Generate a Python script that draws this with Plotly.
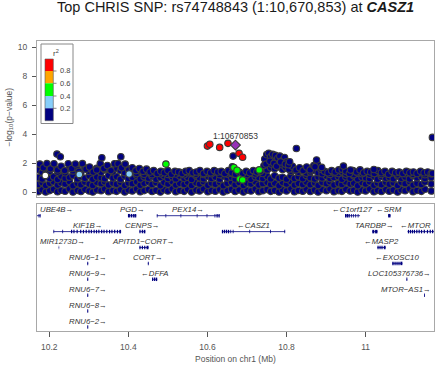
import plotly.graph_objects as go

# ------------------------------------------------------------------ data
title_text = "Top CHRIS SNP: rs74748843 (1:10,670,853) at <b><i>CASZ1</i></b>"
top_snp_label = "1:10670853"
x_range = [10.169, 11.173]
x_ticks = [10.2, 10.4, 10.6, 10.8, 11.0]
x_tick_labels = ["10.2", "10.4", "10.6", "10.8", "11"]
y_ticks = [0, 2, 4, 6, 8, 10]
y_range = [-0.32, 10.46]

# low-r2 (navy) SNP band
bg_pos = [
    10.172, 10.182, 10.191, 10.201, 10.211, 10.221, 10.230, 10.240, 10.251, 10.260,
    10.271, 10.280, 10.290, 10.301, 10.310, 10.320, 10.331, 10.340, 10.350, 10.361,
    10.370, 10.380, 10.391, 10.400, 10.410, 10.421, 10.430, 10.440, 10.451, 10.460,
    10.470, 10.481, 10.490, 10.500, 10.511, 10.520, 10.530, 10.541, 10.550, 10.560,
    10.571, 10.580, 10.590, 10.601, 10.610, 10.620, 10.631, 10.640, 10.650, 10.661,
    10.670, 10.680, 10.691, 10.700, 10.710, 10.721, 10.730, 10.740, 10.751, 10.760,
    10.770, 10.781, 10.790, 10.800, 10.811, 10.820, 10.830, 10.841, 10.850, 10.860,
    10.871, 10.880, 10.890, 10.901, 10.910, 10.920, 10.931, 10.940, 10.950, 10.961,
    10.970, 10.980, 10.991, 11.000, 11.010, 11.021, 11.030, 11.040, 11.051, 11.060,
    11.070, 11.081, 11.090, 11.100, 11.111, 11.120, 11.130, 11.141, 11.150, 11.166]
bg_logp_low = [
    0.05, 0.18, 0.02, 0.12, 0.22, 0.04, 0.15, 0.08, 0.25, 0.03,
    0.14, 0.06, 0.21, 0.09, 0.02, 0.17, 0.11, 0.24, 0.05, 0.13,
    0.07, 0.19, 0.03, 0.16, 0.10, 0.23, 0.04, 0.12, 0.20, 0.06,
    0.15, 0.02, 0.18, 0.09, 0.25, 0.05, 0.13, 0.07, 0.21, 0.03,
    0.16, 0.10, 0.24, 0.04, 0.14, 0.08, 0.19, 0.02, 0.12, 0.22,
    0.06, 0.17, 0.03, 0.15, 0.09, 0.23, 0.05, 0.11, 0.20, 0.07,
    0.14, 0.02, 0.18, 0.10, 0.25, 0.04, 0.13, 0.08, 0.21, 0.06,
    0.16, 0.03, 0.19, 0.11, 0.24, 0.05, 0.12, 0.07, 0.22, 0.09,
    0.15, 0.02, 0.17, 0.10, 0.23, 0.04, 0.14, 0.06, 0.20, 0.08,
    0.16, 0.03, 0.18, 0.11, 0.25, 0.05, 0.13, 0.07, 0.21, 0.09]
bg_logp_mid = [
    0.55, 0.68, 0.47, 0.62, 0.73, 0.50, 0.66, 0.58, 0.75, 0.46,
    0.63, 0.52, 0.71, 0.57, 0.48, 0.69, 0.60, 0.74, 0.51, 0.64,
    0.56, 0.70, 0.47, 0.65, 0.59, 0.73, 0.49, 0.62, 0.72, 0.54,
    0.67, 0.46, 0.70, 0.58, 0.75, 0.50, 0.63, 0.55, 0.71, 0.48,
    0.66, 0.57, 0.74, 0.49, 0.64, 0.56, 0.69, 0.46, 0.62, 0.72,
    0.53, 0.68, 0.47, 0.65, 0.58, 0.73, 0.51, 0.60, 0.70, 0.55,
    0.64, 0.46, 0.69, 0.57, 0.75, 0.50, 0.63, 0.54, 0.71, 0.52,
    0.66, 0.47, 0.70, 0.59, 0.74, 0.51, 0.62, 0.55, 0.72, 0.58,
    0.65, 0.46, 0.68, 0.57, 0.73, 0.49, 0.64, 0.53, 0.70, 0.56,
    0.66, 0.48, 0.69, 0.60, 0.75, 0.50, 0.63, 0.54, 0.71, 0.58]
bg_logp_high = [
    1.02, 0.92, 1.15, 0.95, 1.08, 0.89, 1.12, 0.98, 1.05, 1.17,
    0.93, 1.10, 0.97, 1.14, 0.90, 1.06, 1.01, 0.94, 1.16, 0.99,
    1.09, 0.91, 1.13, 0.96, 1.04, 1.18, 0.92, 1.07, 0.98, 1.11,
    0.90, 1.03, 1.15, 0.95, 1.08, 0.93, 1.12, 0.97, 1.05, 0.89,
    1.14, 1.00, 0.94, 1.10, 0.96, 1.06, 0.91, 1.13, 0.99, 1.04,
    0.92, 1.16, 0.97, 1.09, 0.90, 1.07, 1.02, 0.95, 1.11, 0.93,
    1.15, 0.98, 1.04, 0.91, 1.12, 0.96, 1.08, 0.94, 1.17, 1.00,
    0.92, 1.06, 0.99, 1.13, 0.95, 1.03, 1.10, 0.90, 1.07, 0.97,
    1.14, 0.93, 1.05, 1.01, 0.96, 1.11, 0.91, 1.08, 0.98, 1.04,
    0.94, 1.12, 0.97, 1.06, 0.92, 1.15, 1.00, 1.09, 0.95, 1.03]
bg_logp_upper = [
    1.55, 1.38, 1.62, 1.45, 1.68, 1.40, 1.58, 1.35, 1.65, 1.48,
    1.60, 1.37, 1.70, 1.44, 1.52, 1.66, 1.39, 1.57, 1.63, 1.42,
    1.67, 1.50, 1.36, 1.61, 1.43, 1.30, 1.48, 1.25, 1.38, 1.22,
    1.35, 1.28, 1.40, 1.24, 1.33, 1.27, 1.38, 1.21, 1.36, 1.30,
    1.25, 1.39, 1.23, 1.34, 1.28, 1.40, 1.22, 1.36, 1.26, 1.31,
    1.24, 1.37, 1.29, 1.22, 1.35, 1.27, 1.40, 1.30, 1.55, 1.70,
    1.62, 1.75, 1.58, 1.66, 1.45, 1.52, 1.38, 1.47, 1.33, 1.41,
    1.50, 1.36, 1.28, 1.40, 1.24, 1.35, 1.30, 1.42, 1.26, 1.38,
    1.22, 1.33, 1.29, 1.37, 1.25, 1.31, 1.39, 1.23, 1.34, 1.27,
    1.36, 1.21, 1.32, 1.28, 1.38, 1.24, 1.30, 1.35, 1.22, 1.29]
env_pos = [
    10.176, 10.185, 10.194, 10.203, 10.212, 10.221, 10.230, 10.239, 10.248, 10.257,
    10.266, 10.275, 10.284, 10.293, 10.302, 10.311, 10.320, 10.329, 10.338, 10.347,
    10.356, 10.365, 10.374, 10.383, 10.392, 10.401, 10.410, 10.419, 10.428, 10.437,
    10.446, 10.455, 10.464, 10.473, 10.482, 10.491, 10.500, 10.509, 10.518, 10.527,
    10.536, 10.545, 10.554, 10.563, 10.572, 10.581, 10.590, 10.599, 10.608, 10.617,
    10.626, 10.635, 10.644, 10.653, 10.662, 10.671, 10.680, 10.689, 10.698, 10.707,
    10.716, 10.725, 10.734, 10.743, 10.752, 10.761, 10.770, 10.779, 10.788, 10.797,
    10.806, 10.815, 10.824, 10.833, 10.842, 10.851, 10.860, 10.869, 10.878, 10.887,
    10.896, 10.905, 10.914, 10.923, 10.932, 10.941, 10.950, 10.959, 10.968, 10.977,
    10.986, 10.995, 11.004, 11.013, 11.022, 11.031, 11.040, 11.049, 11.058, 11.067,
    11.076, 11.085, 11.094, 11.103, 11.112, 11.121, 11.130, 11.139, 11.148, 11.157,
    11.166]
env_logp = [
    1.95, 1.70, 1.98, 1.62, 1.97, 1.55, 1.80, 1.50, 1.97, 1.65,
    1.96, 1.45, 1.98, 1.60, 1.75, 1.40, 1.55, 1.98, 1.65, 1.85,
    1.50, 1.97, 1.98, 1.70, 1.95, 1.55, 1.70, 1.50, 1.65, 1.45,
    1.60, 1.40, 1.50, 1.30, 1.45, 1.35, 1.50, 1.25, 1.45, 1.40,
    1.30, 1.45, 1.50, 1.35, 1.40, 1.50, 1.30, 1.45, 1.35, 1.50,
    1.40, 1.45, 1.30, 1.50, 1.35, 1.25, 1.40, 1.30, 1.45, 1.35,
    1.50, 1.40, 1.45, 1.85, 2.10, 1.95, 2.20, 2.05, 1.90, 1.75,
    1.60, 1.80, 1.55, 1.70, 1.50, 1.75, 1.55, 1.85, 1.95, 1.60,
    1.45, 1.35, 1.50, 1.40, 1.55, 1.60, 1.45, 1.30, 1.50, 1.40,
    1.55, 1.35, 1.45, 1.40, 1.30, 1.50, 1.35, 1.45, 1.25, 1.45,
    1.35, 1.40, 1.30, 1.45, 1.35, 1.40, 1.30, 1.45, 1.35, 1.40,
    1.30]
peak_pos = [10.745, 10.750, 10.755, 10.760, 10.765, 10.772, 10.778, 10.783, 10.790,
            10.795, 10.800, 10.748, 10.758, 10.768, 10.775, 10.785, 10.797, 10.805,
            10.2195, 10.228, 10.333, 10.381, 10.665, 10.663, 10.825, 10.808, 10.876,
            10.872, 10.889, 10.944, 10.962, 11.021, 11.169, 11.169]
peak_logp = [2.30, 2.60, 2.69, 2.45, 2.62, 2.55, 2.35, 2.50, 2.20,
             2.40, 2.10, 1.95, 2.15, 2.00, 1.80, 2.10, 1.95, 1.90,
             2.64, 2.46, 2.39, 2.46, 2.50, 1.77, 3.03, 2.11, 2.23,
             1.77, 1.72, 1.81, 1.54, 1.58, 3.79, 1.31]
na_pos = [10.190]
na_logp = [1.17]
lb_pos = [10.276, 10.402]
lb_logp = [1.24, 1.27]
green_pos = [10.495, 10.667, 10.675, 10.731, 10.682, 10.689]
green_logp = [1.95, 1.71, 1.52, 1.55, 0.92, 0.86]
red_pos = [10.600, 10.606, 10.631, 10.652, 10.680, 10.689]
red_logp = [3.19, 3.32, 3.10, 3.38, 2.69, 2.42]
top_pos = [10.670853]
top_logp = [3.26]

legend_labels = ["0.8", "0.6", "0.4", "0.2"]
legend_colors = ["#FF0000", "#FFA500", "#00FF00", "#87CEFA", "#000080"]

# genes
gene_names = ["UBE4B", "PGD", "PEX14", "C1orf127", "SRM",
              "KIF1B", "CENPS", "CASZ1", "TARDBP", "MTOR",
              "MIR1273D", "APITD1-CORT", "MASP2",
              "RNU6-1", "CORT", "EXOSC10",
              "RNU6-9", "DFFA", "LOC105376736",
              "RNU6-7", "MTOR-AS1", "RNU6-8", "RNU6-2"]
gene_start = [10.033, 10.399, 10.472, 10.948, 11.057,
              10.2106, 10.428, 10.6366, 11.017, 11.106,
              10.2240, 10.428, 11.0296,
              10.2962, 10.4493, 11.0675,
              10.2962, 10.4600, 11.1033,
              10.2962, 11.1480, 10.2962, 10.2962]
gene_end = [10.178, 10.420, 10.631, 10.986, 11.063,
            10.3816, 10.443, 10.7966, 11.030, 11.2626,
            10.2250, 10.451, 11.0506,
            10.2985, 10.4515, 11.0930,
            10.2985, 10.4730, 11.1055,
            10.2985, 11.1500, 10.2985, 10.2985]
gene_row = [1, 1, 1, 1, 1, 2, 2, 2, 2, 2, 3, 3, 3, 4, 4, 4, 5, 5, 5, 6, 6, 7, 8]
gene_strand = ["+", "+", "+", "-", "-", "+", "+", "-", "+", "-", "+", "+", "-",
               "+", "+", "-", "+", "-", "+", "+", "+", "+", "+"]
gene_exons = [
    [(10.173, 10.175), (10.176, 10.178)],
    [(10.399, 10.404), (10.406, 10.410), (10.412, 10.416), (10.417, 10.420)],
    [(10.472, 10.4738), (10.494, 10.4958), (10.532, 10.5338), (10.573, 10.5748),
     (10.598, 10.5998), (10.618, 10.620), (10.623, 10.626), (10.628, 10.631)],
    [(10.948, 10.952), (10.953, 10.956), (10.957, 10.960), (10.963, 10.965),
     (10.968, 10.970), (10.974, 10.976), (10.980, 10.982)],
    [(11.057, 11.063)],
    [(10.2106, 10.2125), (10.2330, 10.2350), (10.2550, 10.2580), (10.2610, 10.2640),
     (10.2690, 10.2720), (10.2780, 10.2810), (10.2850, 10.2880), (10.2920, 10.2950),
     (10.2990, 10.3020), (10.3050, 10.3080), (10.3120, 10.3150), (10.3180, 10.3210),
     (10.3240, 10.3270), (10.3310, 10.3340), (10.3370, 10.3400), (10.3440, 10.3470),
     (10.3510, 10.3540), (10.3570, 10.3600), (10.3640, 10.3670), (10.3710, 10.3740),
     (10.3770, 10.3816)],
    [(10.428, 10.431), (10.434, 10.437), (10.439, 10.443)],
    [(10.6366, 10.640), (10.642, 10.645), (10.647, 10.650), (10.652, 10.655),
     (10.658, 10.660), (10.664, 10.666), (10.706, 10.708), (10.7585, 10.7605),
     (10.7946, 10.7966)],
    [(11.017, 11.022), (11.024, 11.030)],
    [(11.107, 11.110), (11.112, 11.115), (11.117, 11.120), (11.122, 11.125),
     (11.128, 11.131), (11.134, 11.137), (11.140, 11.143), (11.147, 11.150),
     (11.155, 11.158), (11.162, 11.165), (11.168, 11.171)],
    [(10.2240, 10.2250)],
    [(10.428, 10.431), (10.434, 10.437), (10.440, 10.443), (10.446, 10.451)],
    [(11.0300, 11.0330), (11.0350, 11.0380), (11.0400, 11.0430), (11.0460, 11.0506)],
    [(10.2962, 10.2985)],
    [(10.4493, 10.4515)],
    [(11.0675, 11.0710), (11.0730, 11.0760), (11.0780, 11.0810), (11.0830, 11.0860),
     (11.0880, 11.0930)],
    [(10.2962, 10.2985)],
    [(10.4600, 10.4630), (10.4650, 10.4680), (10.4695, 10.4730)],
    [(11.1033, 11.1055)],
    [(10.2962, 10.2985)],
    [(11.1480, 11.1500)],
    [(10.2962, 10.2985)],
    [(10.2962, 10.2985)],
]

# ------------------------------------------------------------------ layout helpers
W, H = 440, 366
ML, MR, MT, MB = 37, 6, 40, 35
PW = W - ML - MR
PH = H - MT - MB
FONT = "Liberation Sans, Arial, Helvetica, sans-serif"
NAVY = "#000080"
EDGE = "rgba(58,58,58,1)"
AXCOL = "#555555"
BOXCOL = "#a8a8a8"


def px2x(px):
    return (px - ML) / PW


def py2y(py):
    return (H - MB - py) / PH


top_dom = [py2y(197), py2y(40.7)]
gene_dom = [py2y(331), py2y(204)]
gene_y_range = [8.25, 0.264]

fig = go.Figure()


def add_snps(xs, ys, color, symbol="circle", size=6.5):
    fig.add_trace(go.Scatter(
        x=xs, y=ys, mode="markers", xaxis="x", yaxis="y", hoverinfo="skip",
        marker=dict(color=color, size=size, symbol=symbol,
                    line=dict(color=EDGE, width=1.1)),
        showlegend=False))


add_snps(bg_pos, bg_logp_low, NAVY)
add_snps(bg_pos, bg_logp_mid, NAVY)
add_snps(bg_pos, bg_logp_high, NAVY)
add_snps(bg_pos, bg_logp_upper, NAVY)
add_snps(env_pos, env_logp, NAVY)
add_snps(peak_pos, peak_logp, NAVY)
add_snps(na_pos, na_logp, "#ffffff")
add_snps(lb_pos, lb_logp, legend_colors[3])
add_snps(green_pos, green_logp, legend_colors[2])
add_snps(red_pos, red_logp, legend_colors[0])
add_snps(top_pos, top_logp, "#9632B8", symbol="diamond", size=7.5)

# genes
body_x, body_y, ex_x, ex_y = [], [], [], []
for s, e, r, exons in zip(gene_start, gene_end, gene_row, gene_exons):
    body_x += [s, e, None]
    body_y += [r, r, None]
    for a, b in exons:
        ex_x += [a, b, None]
        ex_y += [r, r, None]
fig.add_trace(go.Scatter(x=body_x, y=body_y, mode="lines", xaxis="x2", yaxis="y2",
                         line=dict(color=NAVY, width=0.8), hoverinfo="skip",
                         showlegend=False))
fig.add_trace(go.Scatter(x=ex_x, y=ex_y, mode="lines", xaxis="x2", yaxis="y2",
                         line=dict(color=NAVY, width=3.5), hoverinfo="skip",
                         showlegend=False))

GENE_FS = 7.8


def text_w(s, size):
    w = 0.0
    for ch in s:
        if ch.isdigit():
            w += 0.556
        elif ch in "→←":
            w += 1.0
        elif ch.isupper():
            w += 0.68
        elif ch.islower():
            w += 0.5
        elif ch == "−":
            w += 0.584
        else:
            w += 0.3
    return w * size


annotations = []
xspan = x_range[1] - x_range[0]
for name, s, e, r, strand in zip(gene_names, gene_start, gene_end, gene_row, gene_strand):
    nm = name.replace("-", "−")
    label = nm + "→" if strand == "+" else "←" + nm
    mid = (max(s, x_range[0]) + min(e, x_range[1])) / 2
    mid_px = ML + (mid - x_range[0]) / xspan * PW
    w = text_w(label, GENE_FS)
    anchor, xpx = "center", mid_px
    if mid_px - w / 2 < ML + 2:
        anchor, xpx = "left", ML + 1
    elif mid_px + w / 2 > ML + PW - 2:
        anchor, xpx = "right", ML + PW - 1
    annotations.append(dict(
        x=x_range[0] + (xpx - ML) / PW * xspan, y=r - 0.36, xref="x2", yref="y2",
        text="<i>" + label + "</i>", showarrow=False, xanchor=anchor, yanchor="middle",
        font=dict(family=FONT, size=GENE_FS, color="#333333")))

# top SNP label
annotations.append(dict(x=top_pos[0], y=top_logp[0], xref="x", yref="y",
                        text=top_snp_label, showarrow=False, yshift=9,
                        xanchor="center", yanchor="middle",
                        font=dict(family=FONT, size=8.5, color="#333333")))
# title
annotations.append(dict(x=0.5, y=py2y(7.5), xref="paper", yref="paper",
                        text=title_text, showarrow=False, xanchor="center",
                        yanchor="middle", font=dict(family=FONT, size=14.5, color="#1a1a1a")))
# axis titles
annotations.append(dict(x=px2x(9.5), y=py2y(117), xref="paper", yref="paper",
                        text="−log<sub>10</sub>(p−value)", textangle=-90, showarrow=False,
                        xanchor="center", yanchor="middle",
                        font=dict(family=FONT, size=8.5, color=AXCOL)))
annotations.append(dict(x=0.5, y=py2y(359), xref="paper", yref="paper",
                        text="Position on chr1 (Mb)", showarrow=False,
                        xanchor="center", yanchor="middle",
                        font=dict(family=FONT, size=8.5, color=AXCOL)))

# r2 legend
shapes = []
shapes.append(dict(type="rect", xref="paper", yref="paper",
                   x0=px2x(41), x1=px2x(73), y0=py2y(123.5), y1=py2y(44),
                   line=dict(color="#888888", width=1), fillcolor="white"))
seg_edges = [59, 71, 83.3, 96, 108.3, 120.7]
for i, col in enumerate(legend_colors):
    shapes.append(dict(type="rect", xref="paper", yref="paper",
                       x0=px2x(45), x1=px2x(53.3),
                       y0=py2y(seg_edges[i + 1]), y1=py2y(seg_edges[i]),
                       line=dict(width=0), fillcolor=col))
shapes.append(dict(type="rect", xref="paper", yref="paper",
                   x0=px2x(45), x1=px2x(53.3), y0=py2y(seg_edges[-1]), y1=py2y(seg_edges[0]),
                   line=dict(color="#555555", width=0.6), fillcolor="rgba(0,0,0,0)"))
for i, lab in enumerate(legend_labels):
    yy = seg_edges[i + 1]
    shapes.append(dict(type="line", xref="paper", yref="paper",
                       x0=px2x(53.3), x1=px2x(56.5), y0=py2y(yy), y1=py2y(yy),
                       line=dict(color="#555555", width=0.7)))
    annotations.append(dict(x=px2x(57.5), y=py2y(yy), xref="paper", yref="paper",
                            text=lab, showarrow=False, xanchor="left", yanchor="middle",
                            font=dict(family=FONT, size=7.5, color="#444444")))
annotations.append(dict(x=px2x(55.5), y=py2y(53), xref="paper", yref="paper",
                        text="r<sup>2</sup>", showarrow=False, xanchor="center",
                        yanchor="middle", font=dict(family=FONT, size=8, color="#444444")))

fig.update_layout(
    width=W, height=H, margin=dict(l=ML, r=MR, t=MT, b=MB),
    paper_bgcolor="white", plot_bgcolor="white", showlegend=False,
    font=dict(family=FONT, size=8.5, color=AXCOL),
    xaxis=dict(domain=[0, 1], anchor="y", range=x_range, showticklabels=False,
               ticks="", showgrid=False, zeroline=False, showline=True, mirror=True,
               linecolor=BOXCOL, linewidth=1),
    yaxis=dict(domain=top_dom, anchor="x", range=y_range, tickvals=y_ticks,
               ticks="outside", ticklen=4, tickcolor=AXCOL, tickwidth=1,
               ticklabelstandoff=3,
               tickfont=dict(size=8.5, color=AXCOL), showgrid=False, zeroline=False,
               showline=True, mirror=True, linecolor=BOXCOL, linewidth=1),
    xaxis2=dict(domain=[0, 1], anchor="y2", range=x_range, tickvals=x_ticks,
                ticktext=x_tick_labels, ticks="outside", ticklen=5, tickcolor=AXCOL,
                ticklabelstandoff=3,
                tickfont=dict(size=8.5, color=AXCOL), showgrid=False, zeroline=False,
                showline=True, mirror=True, linecolor=BOXCOL, linewidth=1),
    yaxis2=dict(domain=gene_dom, anchor="x2", range=gene_y_range, showticklabels=False,
                ticks="", showgrid=False, zeroline=False, showline=True, mirror=True,
                linecolor=BOXCOL, linewidth=1),
    annotations=annotations, shapes=shapes,
)

fig.write_html("out.html", config={"displayModeBar": False},
               post_script="document.body.style.margin='0px';")
